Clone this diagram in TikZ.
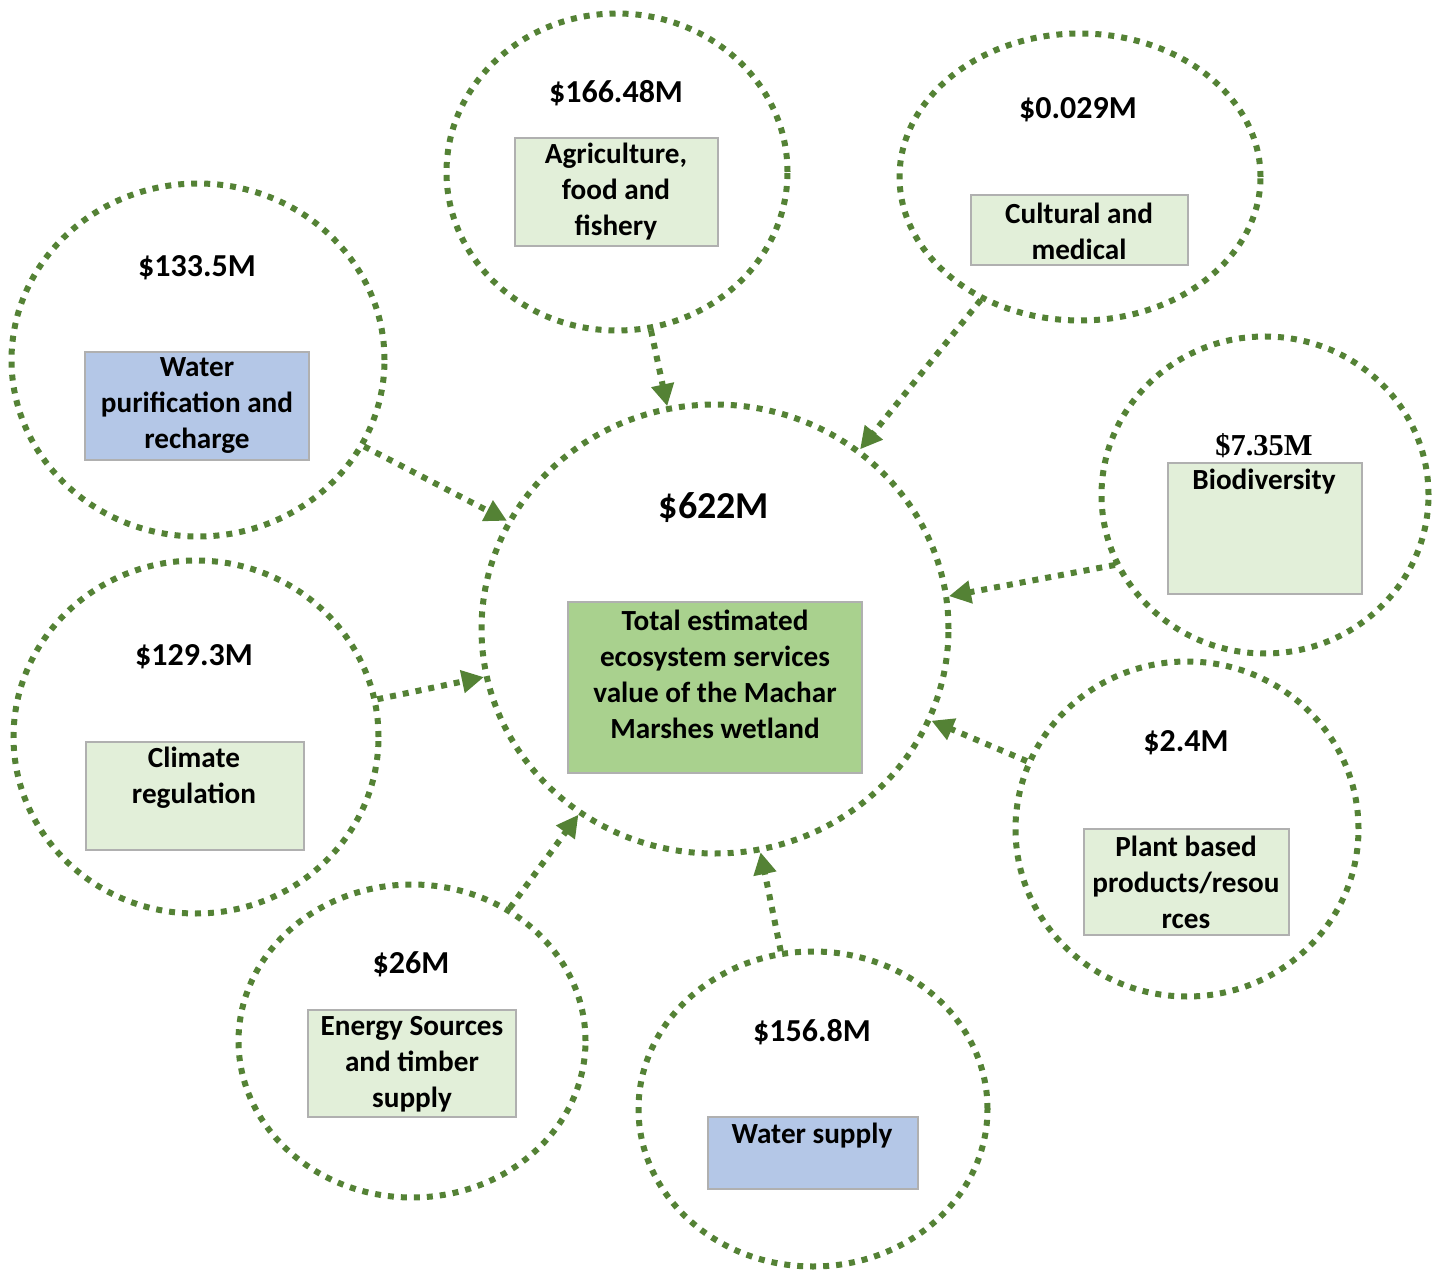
\documentclass[tikz,border=0pt]{standalone}
\usepackage{fontspec}
\setmainfont{Carlito}
\newfontfamily\serifval{Liberation Serif}
\usetikzlibrary{shapes.geometric,arrows.meta}
\definecolor{dkgreen}{HTML}{548235}
\definecolor{lgreen}{HTML}{E2EFD9}
\definecolor{lblue}{HTML}{B4C7E7}
\definecolor{mgreen}{HTML}{A9D18E}
\definecolor{boxline}{HTML}{B0B0B0}
\begin{document}
\begin{tikzpicture}[x=0.5pt,y=-0.5pt,
  bubble/.style={ellipse,draw=dkgreen,line width=3pt,dash pattern=on 3pt off 3.5pt,inner sep=0pt},
  conn/.style={draw=dkgreen,line width=3pt,dash pattern=on 3pt off 3.5pt,-{Triangle[length=11pt,width=11pt]}},
  infobox/.style={rectangle,draw=boxline,line width=0.6pt,inner sep=0pt},
  boxtext/.style={align=center,font=\bfseries\fontsize{14.6}{18}\selectfont,inner sep=0pt},
  valtext/.style={font=\bfseries\fontsize{16}{18}\selectfont,inner sep=0pt},
]
\useasboundingbox (0,0) rectangle (1440,1272);
\fill[white] (0,0) rectangle (1440,1272);

% bubbles
\node[bubble,minimum width=233.5pt,minimum height=224.5pt] (total) at (715,629) {};
\node[bubble,minimum width=170.5pt,minimum height=158.5pt] (agri) at (617,172) {};
\node[bubble,minimum width=180.5pt,minimum height=143.5pt] (cult) at (1080,177) {};
\node[bubble,minimum width=186.5pt,minimum height=176.5pt] (wpur) at (198,360) {};
\node[bubble,minimum width=163.5pt,minimum height=158.5pt] (bio) at (1265,495) {};
\node[bubble,minimum width=182.5pt,minimum height=176.5pt] (clim) at (196,737) {};
\node[bubble,minimum width=171.5pt,minimum height=167.5pt] (plant) at (1187,829) {};
\node[bubble,minimum width=173.5pt,minimum height=156.5pt] (energy) at (412,1041) {};
\node[bubble,minimum width=174.5pt,minimum height=157.5pt] (wsup) at (813,1109) {};

% boxes
\node[infobox,fill=lgreen,minimum width=101.5pt,minimum height=54pt] (agribox) at (616.5,192) {};
\node[infobox,fill=lgreen,minimum width=108.5pt,minimum height=35pt] (cultbox) at (1079.5,230) {};
\node[infobox,fill=lblue,minimum width=112pt,minimum height=54pt] (wpurbox) at (197,406) {};
\node[infobox,fill=lgreen,minimum width=97pt,minimum height=65.5pt] (biobox) at (1265,528.5) {};
\node[infobox,fill=lgreen,minimum width=109pt,minimum height=54pt] (climbox) at (195,796) {};
\node[infobox,fill=mgreen,minimum width=147pt,minimum height=85.5pt] (totalbox) at (715,687.5) {};
\node[infobox,fill=lgreen,minimum width=102.5pt,minimum height=53pt] (plantbox) at (1186.5,882) {};
\node[infobox,fill=lgreen,minimum width=104pt,minimum height=53.5pt] (energybox) at (412,1063.5) {};
\node[infobox,fill=lblue,minimum width=105pt,minimum height=36pt] (wsupbox) at (813,1153) {};

% box texts
\node[boxtext] (agritxt) at (616,192) {Agriculture,\\food and\\fishery};
\node[boxtext] (culttxt) at (1079,231) {Cultural and\\medical};
\node[boxtext] (wpurtxt) at (197,406) {Water\\purification and\\recharge};
\node[boxtext] (biotxt) at (1264,482) {Biodiversity};
\node[boxtext] (climtxt) at (194,777.5) {Climate\\regulation};
\node[boxtext] (totaltxt) at (715,674.5) {Total estimated\\ecosystem services\\value of the Machar\\Marshes wetland};
\node[boxtext] (planttxt) at (1186,882) {Plant based\\products/resou\\rces};
\node[boxtext] (energytxt) at (412,1064) {Energy Sources\\and timber\\supply};
\node[boxtext] (wsuptxt) at (812,1136) {Water supply};

% values
\node[valtext] (agrival) at (616,93) {\$166.48M};
\node[valtext] (cultval) at (1078,110) {\$0.029M};
\node[valtext] (wpurval) at (197,268) {\$133.5M};
\node[valtext,font=\serifval\bfseries\fontsize{15.2}{17}\selectfont] (bioval) at (1264,446) {\$7.35M};
\node[valtext,font=\bfseries\fontsize{19}{22}\selectfont] (totalval) at (714,508) {\$622M};
\node[valtext] (climval) at (194,657) {\$129.3M};
\node[valtext] (plantval) at (1186,743) {\$2.4M};
\node[valtext] (energyval) at (411,964) {\$26M};
\node[valtext] (wsupval) at (812,1032) {\$156.8M};

% connectors
\draw[conn] (agri) -- (total);
\draw[conn] (cult) -- (total);
\draw[conn] (wpur) -- (total);
\draw[conn] (bio.205) -- (total.8);
\draw[conn] (clim) -- (total);
\draw[conn] (plant) -- (total);
\draw[conn] (energy) -- (total);
\draw[conn] (wsup) -- (total);
\end{tikzpicture}
\end{document}
